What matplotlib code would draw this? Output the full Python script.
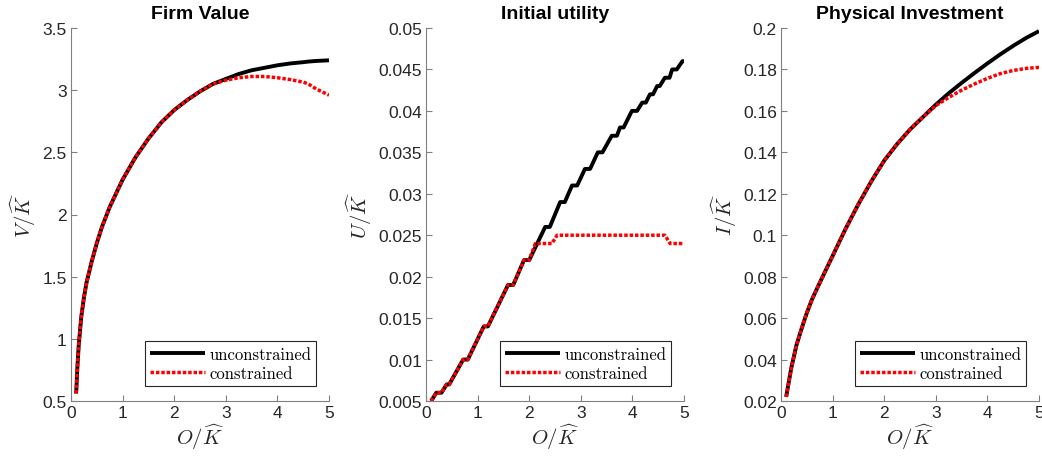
import numpy as np
import matplotlib
matplotlib.use('Agg')
import matplotlib.pyplot as plt

# --- dados ---
o_v = [0.1, 0.125, 0.15, 0.2, 0.25, 0.3, 0.4, 0.5, 0.6, 0.75, 1.0, 1.25, 1.5, 1.75, 2.0,
       2.25, 2.5, 2.75, 3.0, 3.25, 3.5, 3.75, 4.0, 4.25, 4.5, 4.6, 4.75, 5.0]
v_unc = [0.56, 0.78, 0.95, 1.18, 1.33, 1.45, 1.62, 1.77, 1.90, 2.06, 2.28, 2.46, 2.61, 2.74,
         2.84, 2.92, 2.99, 3.05, 3.09, 3.13, 3.16, 3.18, 3.20, 3.215, 3.225, 3.23, 3.235, 3.24]
v_con = [0.56, 0.78, 0.95, 1.18, 1.33, 1.45, 1.62, 1.77, 1.90, 2.06, 2.28, 2.46, 2.61, 2.74,
         2.84, 2.92, 2.99, 3.05, 3.08, 3.10, 3.11, 3.11, 3.10, 3.085, 3.065, 3.05, 3.01, 2.96]

o_u_unc = [0.1, 0.2, 0.3, 0.4, 0.45, 0.72, 0.81, 1.12, 1.2, 1.59, 1.69, 1.9, 2.0, 2.31, 2.4,
           2.6, 2.69, 2.83, 2.93, 3.08, 3.18, 3.33, 3.42, 3.6, 3.7, 3.76, 3.83, 3.99, 4.09,
           4.19, 4.26, 4.34, 4.4, 4.48, 4.53, 4.63, 4.72, 4.77, 4.86, 4.97, 5.0]
u_unc = [0.005, 0.006, 0.006, 0.007, 0.007, 0.010, 0.010, 0.014, 0.014, 0.019, 0.019, 0.022,
         0.022, 0.026, 0.026, 0.029, 0.029, 0.031, 0.031, 0.033, 0.033, 0.035, 0.035, 0.037,
         0.037, 0.038, 0.038, 0.040, 0.040, 0.041, 0.041, 0.042, 0.042, 0.043, 0.043, 0.044,
         0.044, 0.045, 0.045, 0.046, 0.046]
o_u_con = [0.1, 0.2, 0.3, 0.4, 0.45, 0.72, 0.81, 1.12, 1.2, 1.59, 1.69, 1.9, 2.0, 2.12, 2.44,
           2.54, 4.63, 4.73, 5.0]
u_con = [0.005, 0.006, 0.006, 0.007, 0.007, 0.010, 0.010, 0.014, 0.014, 0.019, 0.019, 0.022,
         0.022, 0.024, 0.024, 0.025, 0.025, 0.024, 0.024]

o_i = [0.1, 0.2, 0.3, 0.4, 0.5, 0.6, 0.75, 1.0, 1.25, 1.5, 1.75, 2.0, 2.25, 2.5, 2.75, 3.0,
       3.25, 3.5, 3.75, 4.0, 4.25, 4.5, 4.75, 5.0]
i_unc = [0.022, 0.036, 0.047, 0.055, 0.0625, 0.069, 0.077, 0.090, 0.103, 0.115, 0.126, 0.136,
         0.144, 0.151, 0.157, 0.163, 0.1685, 0.1735, 0.1783, 0.1829, 0.1873, 0.1914, 0.1952,
         0.1985]
i_con = [0.022, 0.036, 0.047, 0.055, 0.0625, 0.069, 0.077, 0.090, 0.103, 0.115, 0.126, 0.136,
         0.144, 0.151, 0.157, 0.1625, 0.1665, 0.170, 0.173, 0.1757, 0.178, 0.1795, 0.1805,
         0.181]

x_ticks = [0, 1, 2, 3, 4, 5]
x_labels = ['0', '1', '2', '3', '4', '5']
v_ticks = [0.5, 1, 1.5, 2, 2.5, 3, 3.5]
v_labels = ['0.5', '1', '1.5', '2', '2.5', '3', '3.5']
u_ticks = [0.005, 0.01, 0.015, 0.02, 0.025, 0.03, 0.035, 0.04, 0.045, 0.05]
u_labels = ['0.005', '0.01', '0.015', '0.02', '0.025', '0.03', '0.035', '0.04', '0.045', '0.05']
i_ticks = [0.02, 0.04, 0.06, 0.08, 0.1, 0.12, 0.14, 0.16, 0.18, 0.2]
i_labels = ['0.02', '0.04', '0.06', '0.08', '0.1', '0.12', '0.14', '0.16', '0.18', '0.2']

titulos = ['Firm Value', 'Initial utility', 'Physical Investment']
ylabels = [r'$V/\widehat{K}$', r'$U/\widehat{K}$', r'$I/\widehat{K}$']

plt.rcParams.update({
    'font.family': 'Liberation Sans',
    'mathtext.fontset': 'cm',
    'axes.edgecolor': '#808080',
    'xtick.color': '#808080',
    'ytick.color': '#808080',
    'xtick.labelcolor': '#262626',
    'ytick.labelcolor': '#262626',
    'xtick.direction': 'in',
    'ytick.direction': 'in',
    'xtick.labelsize': 12.5,
    'ytick.labelsize': 12.5,
})

fig = plt.figure(figsize=(10.42, 4.6), dpi=100)
lefts = [71 / 1042, 426 / 1042, 781 / 1042]
larg = 258 / 1042
base = 1 - 402 / 460
alt = 373 / 460

series = [
    (o_v, v_unc, o_v, v_con, v_ticks, v_labels, (0.5, 3.5)),
    (o_u_unc, u_unc, o_u_con, u_con, u_ticks, u_labels, (0.005, 0.05)),
    (o_i, i_unc, o_i, i_con, i_ticks, i_labels, (0.02, 0.2)),
]

for k, (xa, ya, xb, yb, yt, ytl, ylim) in enumerate(series):
    ax = fig.add_axes([lefts[k], base, larg, alt])
    ax.plot(xa, ya, color='black', lw=2.8, label='unconstrained', solid_capstyle='butt')
    ax.plot(xb, yb, color='red', lw=2.5, linestyle=(0, (1, 0.55)), label='constrained',
            dash_capstyle='butt')
    ax.set_xlim(0, 5)
    ax.set_ylim(*ylim)
    ax.set_xticks(x_ticks)
    ax.set_xticklabels(x_labels)
    ax.set_yticks(yt)
    ax.set_yticklabels(ytl)
    ax.tick_params(length=4, width=0.8, pad=3)
    ax.spines['top'].set_visible(False)
    ax.spines['right'].set_visible(False)
    ax.set_title(titulos[k], fontsize=14, fontweight='bold', pad=7)
    ax.set_xlabel(r'$O/\widehat{K}$', fontsize=15, color='#262626', labelpad=1)
    ax.set_ylabel(ylabels[k], fontsize=15, color='#262626', labelpad=3)
    leg = ax.legend(loc='lower right', bbox_to_anchor=(0.95, 0.04), borderaxespad=0,
                    prop={'family': 'cmr10', 'size': 12}, handlelength=3.3,
                    fancybox=False, framealpha=1, edgecolor='#262626',
                    borderpad=0.3, labelspacing=0.25, handletextpad=0.25)
    leg.get_frame().set_linewidth(0.8)

plt.savefig('out.png', dpi=100)
